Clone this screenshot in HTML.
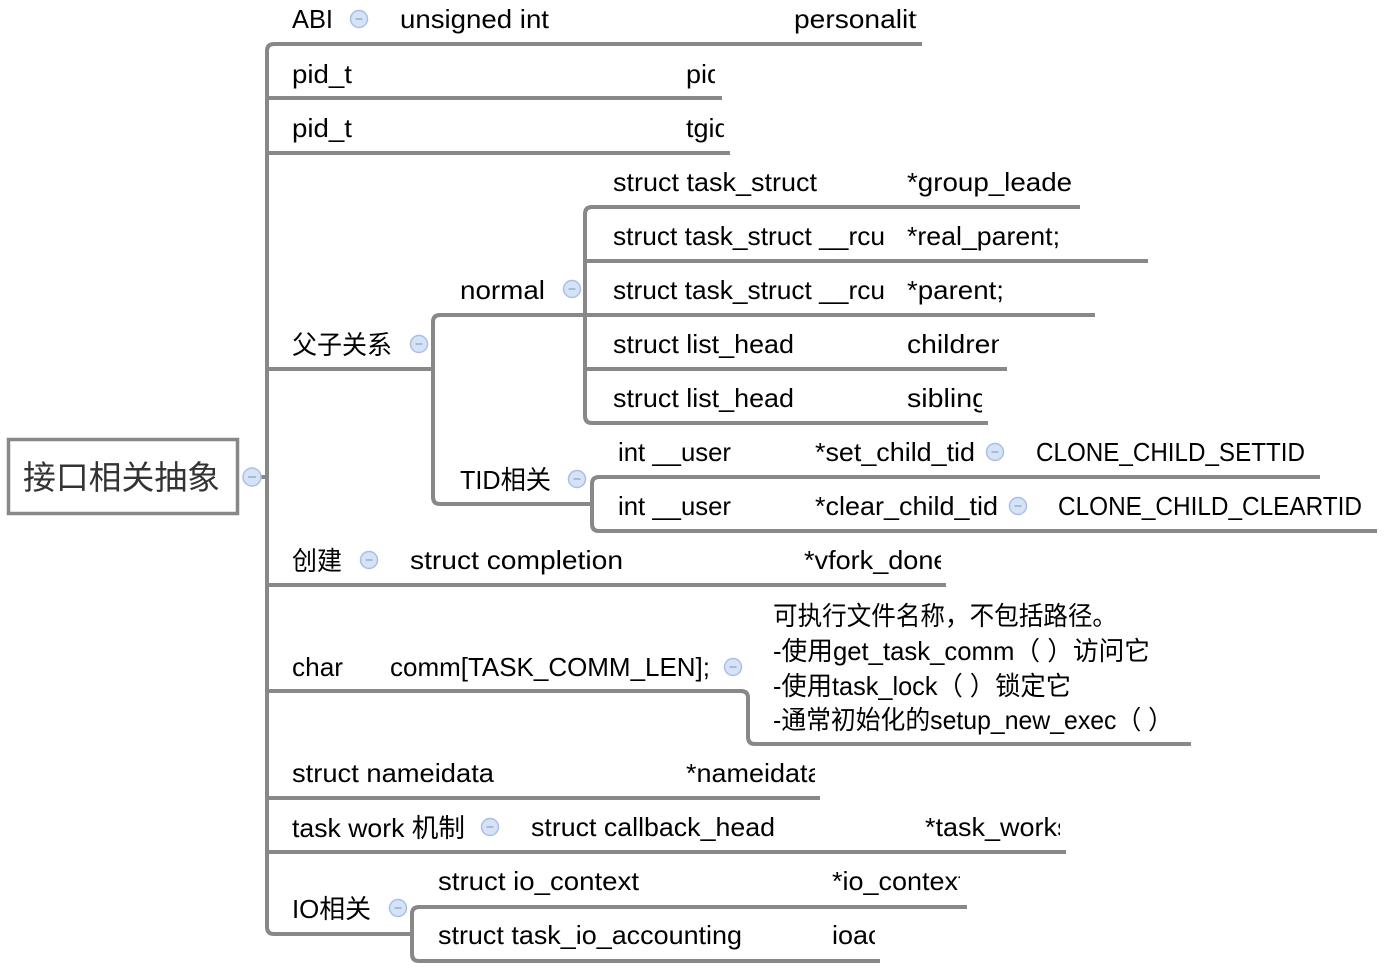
<!DOCTYPE html>
<html><head><meta charset="utf-8"><style>
html,body{margin:0;padding:0;background:#fff;}
svg{display:block;}
text{font-family:"Liberation Sans","Noto Sans CJK SC",sans-serif;font-size:26px;fill:#000;}
.ln{fill:none;stroke:#888;stroke-width:4;}
.c{fill:#d6e3f7;stroke:#a9c0e6;stroke-width:1.5;}
.m{stroke:#8ea5c8;stroke-width:1.3;}
</style></head><body>
<svg width="1400" height="969" viewBox="0 0 1400 969" xmlns="http://www.w3.org/2000/svg">
<defs>
<clipPath id="k1"><rect x="780" y="0" width="137" height="44"/></clipPath>
<clipPath id="k2"><rect x="680" y="50" width="35" height="46"/></clipPath>
<clipPath id="k3"><rect x="680" y="105" width="44" height="46"/></clipPath>
<clipPath id="k4"><rect x="900" y="160" width="171" height="45"/></clipPath>
<clipPath id="k5"><rect x="900" y="320" width="99" height="47"/></clipPath>
<clipPath id="k6"><rect x="900" y="375" width="82" height="46"/></clipPath>
<clipPath id="k7"><rect x="800" y="540" width="141" height="43"/></clipPath>
<clipPath id="k8"><rect x="680" y="750" width="135" height="46"/></clipPath>
<clipPath id="k9"><rect x="920" y="805" width="140" height="45"/></clipPath>
<clipPath id="k10"><rect x="825" y="860" width="135" height="45"/></clipPath>
<clipPath id="k11"><rect x="825" y="912" width="50" height="47"/></clipPath>
</defs>

<!-- root -->
<rect x="8.5" y="439.5" width="229" height="74" fill="#fff" stroke="#888" stroke-width="3.5"/>
<text x="23" y="489" style="font-size:33px;fill:#333" textLength="197" lengthAdjust="spacingAndGlyphs">接口相关抽象</text>

<!-- connectors -->
<path class="ln" d="M 258 477 H 267"/>
<path class="ln" d="M 922 44 H 274 Q 267 44 267 51 V 927 Q 267 934 274 934 H 412"/>
<path class="ln" d="M 267 98 H 722"/>
<path class="ln" d="M 267 153 H 730"/>
<path class="ln" d="M 267 369 H 433"/>
<path class="ln" d="M 267 585 H 946"/>
<path class="ln" d="M 267 691 H 741 Q 748 691 748 698 V 737 Q 748 744 755 744 H 1191"/>
<path class="ln" d="M 267 798 H 820"/>
<path class="ln" d="M 267 852 H 1066"/>
<path class="ln" d="M 1095 315 H 440 Q 433 315 433 322 V 497 Q 433 504 440 504 H 592"/>
<path class="ln" d="M 1080 207 H 592 Q 585 207 585 214 V 416 Q 585 423 592 423 H 988"/>
<path class="ln" d="M 585 261 H 1148"/>
<path class="ln" d="M 585 369 H 1007"/>
<path class="ln" d="M 1320 477 H 599 Q 592 477 592 484 V 524 Q 592 531 599 531 H 1377"/>
<path class="ln" d="M 967 907 H 419 Q 412 907 412 914 V 954 Q 412 961 419 961 H 880"/>

<!-- collapse circles -->
<g>
<circle class="c" cx="252" cy="477" r="9"/><line class="m" x1="248" y1="477" x2="256" y2="477"/>
<circle class="c" cx="359" cy="19" r="8.5"/><line class="m" x1="355.5" y1="19" x2="362.5" y2="19"/>
<circle class="c" cx="419" cy="344" r="8.5"/><line class="m" x1="415.5" y1="344" x2="422.5" y2="344"/>
<circle class="c" cx="572" cy="289" r="8.5"/><line class="m" x1="568.5" y1="289" x2="575.5" y2="289"/>
<circle class="c" cx="577" cy="479" r="8.5"/><line class="m" x1="573.5" y1="479" x2="580.5" y2="479"/>
<circle class="c" cx="995" cy="452" r="8.5"/><line class="m" x1="991.5" y1="452" x2="998.5" y2="452"/>
<circle class="c" cx="1018" cy="506" r="8.5"/><line class="m" x1="1014.5" y1="506" x2="1021.5" y2="506"/>
<circle class="c" cx="369" cy="560" r="8.5"/><line class="m" x1="365.5" y1="560" x2="372.5" y2="560"/>
<circle class="c" cx="733" cy="667" r="8.5"/><line class="m" x1="729.5" y1="667" x2="736.5" y2="667"/>
<circle class="c" cx="490" cy="827" r="8.5"/><line class="m" x1="486.5" y1="827" x2="493.5" y2="827"/>
<circle class="c" cx="398" cy="908" r="8.5"/><line class="m" x1="394.5" y1="908" x2="401.5" y2="908"/>
</g>

<!-- ABI row -->
<text x="292" y="28" textLength="41" lengthAdjust="spacingAndGlyphs">ABI</text>
<text x="400" y="28" textLength="149" lengthAdjust="spacingAndGlyphs">unsigned int</text>
<text x="794" y="28" clip-path="url(#k1)" textLength="144" lengthAdjust="spacingAndGlyphs">personality;</text>

<!-- pid -->
<text x="292" y="83" textLength="60" lengthAdjust="spacingAndGlyphs">pid_t</text>
<text x="686" y="83" clip-path="url(#k2)" textLength="43.5" lengthAdjust="spacingAndGlyphs">pid;</text>
<text x="292" y="137" textLength="60" lengthAdjust="spacingAndGlyphs">pid_t</text>
<text x="686" y="137" clip-path="url(#k3)" textLength="51" lengthAdjust="spacingAndGlyphs">tgid;</text>

<!-- 父子关系 -->
<text x="292" y="354" textLength="100" lengthAdjust="spacingAndGlyphs">父子关系</text>
<text x="460" y="299" textLength="85" lengthAdjust="spacingAndGlyphs">normal</text>
<text x="460" y="489" textLength="91" lengthAdjust="spacingAndGlyphs">TID相关</text>

<text x="613" y="191" textLength="204" lengthAdjust="spacingAndGlyphs">struct task_struct</text>
<text x="907" y="191" clip-path="url(#k4)" textLength="182" lengthAdjust="spacingAndGlyphs">*group_leader;</text>
<text x="613" y="245" textLength="272" lengthAdjust="spacingAndGlyphs">struct task_struct __rcu</text>
<text x="907" y="245" textLength="153" lengthAdjust="spacingAndGlyphs">*real_parent;</text>
<text x="613" y="299" textLength="272" lengthAdjust="spacingAndGlyphs">struct task_struct __rcu</text>
<text x="907" y="299" textLength="97" lengthAdjust="spacingAndGlyphs">*parent;</text>
<text x="613" y="353" textLength="181" lengthAdjust="spacingAndGlyphs">struct list_head</text>
<text x="907" y="353" clip-path="url(#k5)" textLength="107" lengthAdjust="spacingAndGlyphs">children;</text>
<text x="613" y="407" textLength="181" lengthAdjust="spacingAndGlyphs">struct list_head</text>
<text x="907" y="407" clip-path="url(#k6)" textLength="89" lengthAdjust="spacingAndGlyphs">sibling;</text>

<text x="618" y="461" textLength="113" lengthAdjust="spacingAndGlyphs">int __user</text>
<text x="815" y="461" textLength="160" lengthAdjust="spacingAndGlyphs">*set_child_tid</text>
<text x="1036" y="461" textLength="269" lengthAdjust="spacingAndGlyphs">CLONE_CHILD_SETTID</text>
<text x="618" y="515" textLength="113" lengthAdjust="spacingAndGlyphs">int __user</text>
<text x="815" y="515" textLength="183" lengthAdjust="spacingAndGlyphs">*clear_child_tid</text>
<text x="1058" y="515" textLength="304" lengthAdjust="spacingAndGlyphs">CLONE_CHILD_CLEARTID</text>

<!-- 创建 -->
<text x="292" y="570" textLength="50" lengthAdjust="spacingAndGlyphs">创建</text>
<text x="410" y="569" textLength="213" lengthAdjust="spacingAndGlyphs">struct completion</text>
<text x="804" y="569" clip-path="url(#k7)" textLength="152" lengthAdjust="spacingAndGlyphs">*vfork_done;</text>

<!-- char comm -->
<text x="292" y="676" textLength="51" lengthAdjust="spacingAndGlyphs">char</text>
<text x="390" y="676" textLength="320" lengthAdjust="spacingAndGlyphs">comm[TASK_COMM_LEN];</text>
<text x="773" y="625" textLength="344" lengthAdjust="spacingAndGlyphs">可执行文件名称，不包括路径。</text>
<text x="773" y="660" textLength="377" lengthAdjust="spacingAndGlyphs">-使用get_task_comm（ ）访问它</text>
<text x="773" y="695" textLength="298" lengthAdjust="spacingAndGlyphs">-使用task_lock（ ）锁定它</text>
<text x="773" y="729" textLength="400" lengthAdjust="spacingAndGlyphs">-通常初始化的setup_new_exec（ ）</text>

<!-- nameidata -->
<text x="292" y="782" textLength="202" lengthAdjust="spacingAndGlyphs">struct nameidata</text>
<text x="686" y="782" clip-path="url(#k8)" textLength="144" lengthAdjust="spacingAndGlyphs">*nameidata;</text>

<!-- task work -->
<text x="292" y="837" textLength="173" lengthAdjust="spacingAndGlyphs">task work 机制</text>
<text x="531" y="836" textLength="244" lengthAdjust="spacingAndGlyphs">struct callback_head</text>
<text x="925" y="836" clip-path="url(#k9)" textLength="153" lengthAdjust="spacingAndGlyphs">*task_works;</text>

<!-- IO -->
<text x="292" y="918" textLength="79" lengthAdjust="spacingAndGlyphs">IO相关</text>
<text x="438" y="890" textLength="201" lengthAdjust="spacingAndGlyphs">struct io_context</text>
<text x="832" y="890" clip-path="url(#k10)" textLength="141" lengthAdjust="spacingAndGlyphs">*io_context;</text>
<text x="438" y="944" textLength="304" lengthAdjust="spacingAndGlyphs">struct task_io_accounting</text>
<text x="832" y="944" clip-path="url(#k11)" textLength="57" lengthAdjust="spacingAndGlyphs">ioac;</text>
</svg>
</body></html>
